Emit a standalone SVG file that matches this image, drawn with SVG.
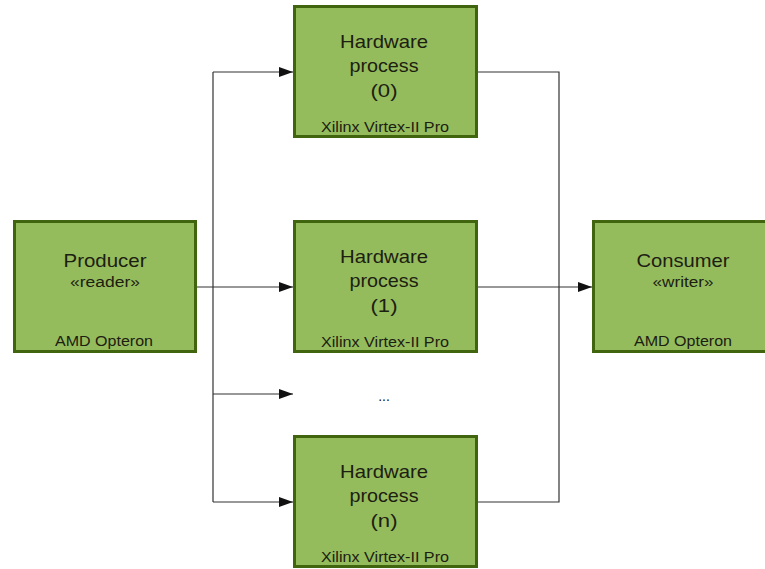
<svg xmlns="http://www.w3.org/2000/svg" width="765" height="569" viewBox="0 0 765 569">
  <defs>
    <marker id="arrow" markerUnits="userSpaceOnUse" markerWidth="14" markerHeight="10" refX="14" refY="5" orient="auto">
      <path d="M0,0 L14,5 L0,10 z" fill="#111"/>
    </marker>
    <style>
      .box { fill: #95bc5c; stroke: #41650f; stroke-width: 3; }
      .t { font-family: "Liberation Sans", Arial, sans-serif; fill: #1c2012; text-anchor: middle; }
      .big { font-size: 18.5px; }
      .small { font-size: 14px; }
      .wire { fill: none; stroke: #333; stroke-width: 1.2; }
      .arr { marker-end: url(#arrow); }
    </style>
  </defs>
  <rect width="765" height="569" fill="#ffffff"/>

  <!-- connectors -->
  <g id="connectors">
    <path class="wire" d="M213,72 V502"/>
    <path class="wire arr" d="M197,287 H293"/>
    <path class="wire arr" d="M213,72 H293"/>
    <path class="wire arr" d="M213,394 H293"/>
    <path class="wire arr" d="M213,502 H293"/>
    <path class="wire" d="M478,72 H559 V502 H478"/>
    <path class="wire arr" d="M478,287 H592"/>
  </g>

  <!-- producer -->
  <g id="producer">
    <rect class="box" x="14.5" y="221.5" width="181" height="130"/>
    <text class="t big" x="105" y="267" textLength="83" lengthAdjust="spacingAndGlyphs">Producer</text>
    <text class="t small" x="105" y="287" textLength="70" lengthAdjust="spacingAndGlyphs">«reader»</text>
    <text class="t small" x="104" y="346" textLength="98" lengthAdjust="spacingAndGlyphs">AMD Opteron</text>
  </g>

  <!-- hardware process 0 -->
  <g id="hw0">
    <rect class="box" x="294.5" y="6.5" width="182" height="130"/>
    <text class="t big" x="384" y="48" textLength="88" lengthAdjust="spacingAndGlyphs">Hardware</text>
    <text class="t big" x="384" y="72" textLength="69" lengthAdjust="spacingAndGlyphs">process</text>
    <text class="t big" x="384" y="97" textLength="27" lengthAdjust="spacingAndGlyphs">(0)</text>
    <text class="t small" x="385" y="132" textLength="128" lengthAdjust="spacingAndGlyphs">Xilinx Virtex-II Pro</text>
  </g>

  <!-- hardware process 1 -->
  <g id="hw1">
    <rect class="box" x="294.5" y="221.5" width="182" height="130"/>
    <text class="t big" x="384" y="263" textLength="88" lengthAdjust="spacingAndGlyphs">Hardware</text>
    <text class="t big" x="384" y="287" textLength="69" lengthAdjust="spacingAndGlyphs">process</text>
    <text class="t big" x="384" y="312" textLength="27" lengthAdjust="spacingAndGlyphs">(1)</text>
    <text class="t small" x="385" y="347" textLength="128" lengthAdjust="spacingAndGlyphs">Xilinx Virtex-II Pro</text>
  </g>

  <!-- further processes -->
  <g id="more">
    <text class="t small" x="384" y="401">...</text>
  </g>

  <!-- hardware process n -->
  <g id="hwn">
    <rect class="box" x="294.5" y="436.5" width="182" height="130"/>
    <text class="t big" x="384" y="478" textLength="88" lengthAdjust="spacingAndGlyphs">Hardware</text>
    <text class="t big" x="384" y="502" textLength="69" lengthAdjust="spacingAndGlyphs">process</text>
    <text class="t big" x="384" y="527" textLength="27" lengthAdjust="spacingAndGlyphs">(n)</text>
    <text class="t small" x="385" y="562" textLength="128" lengthAdjust="spacingAndGlyphs">Xilinx Virtex-II Pro</text>
  </g>

  <!-- consumer -->
  <g id="consumer">
    <rect class="box" x="593.5" y="221.5" width="184" height="130"/>
    <text class="t big" x="683" y="267" textLength="93" lengthAdjust="spacingAndGlyphs">Consumer</text>
    <text class="t small" x="683" y="287" textLength="61" lengthAdjust="spacingAndGlyphs">«writer»</text>
    <text class="t small" x="683" y="346" textLength="98" lengthAdjust="spacingAndGlyphs">AMD Opteron</text>
  </g>
</svg>
